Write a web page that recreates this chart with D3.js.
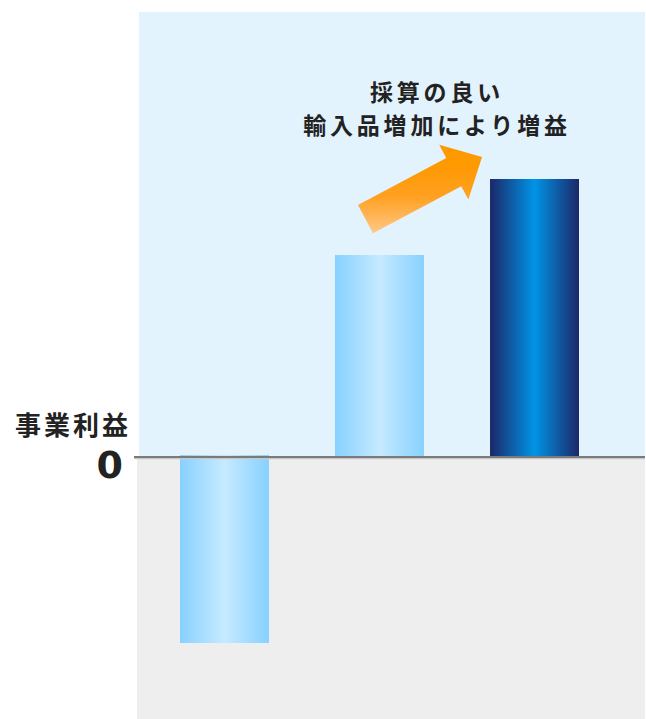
<!DOCTYPE html>
<html>
<head>
<meta charset="utf-8">
<script src="https://cdn.jsdelivr.net/npm/d3@7"></script>
<style>
  body { margin: 0; background: #fff; }
  svg { display: block; }
  text { font-family: "Noto Sans CJK JP", "Noto Sans", sans-serif; font-weight: bold; fill: #222; }
</style>
</head>
<body>
<svg width="646" height="719"></svg>
<script>
const W = 646, H = 719;

// data
const categories = ["前期", "当期見込", "当期"];
const values = [-186, 202, 278];
const yLabel = "事業利益";
const zeroLabel = "0";
const noteLines = ["採算の良い", "輸入品増加により増益"];

const svg = d3.select("svg");
const defs = svg.append("defs");

const x = d3.scaleBand()
  .domain(categories)
  .range([180 - 0.3 * 155, 579 + 0.3 * 155])
  .paddingInner(0.426)
  .paddingOuter(0.3);

const y = d3.scaleLinear()
  .domain([-262, 445])
  .range([H, 12]);

const plotL = 139, plotR = 645;

// background panels
svg.append("rect")
  .attr("x", plotL).attr("y", y(445))
  .attr("width", plotR - plotL).attr("height", y(0) - y(445))
  .attr("fill", "#e2f3fd");
svg.append("rect")
  .attr("x", 137).attr("y", y(0))
  .attr("width", plotR - 137).attr("height", H - y(0))
  .attr("fill", "#eeeeee");

// gradients
function hGrad(id, edge, mid){
  const g = defs.append("linearGradient").attr("id", id)
    .attr("x1", "0%").attr("x2", "100%").attr("y1", "0%").attr("y2", "0%");
  g.append("stop").attr("offset", "0%").attr("stop-color", edge);
  g.append("stop").attr("offset", "50%").attr("stop-color", mid);
  g.append("stop").attr("offset", "100%").attr("stop-color", edge);
}
hGrad("lightBar", "#87d1ff", "#c6eaff");
hGrad("darkBar", "#1c2868", "#0094e6");

const barFill = ["url(#lightBar)", "url(#lightBar)", "url(#darkBar)"];

// bars
svg.append("g")
  .selectAll("rect")
  .data(values)
  .join("rect")
  .attr("x", (d, i) => x(categories[i]))
  .attr("width", x.bandwidth())
  .attr("y", d => d < 0 ? y(0) - 2 : y(d))
  .attr("height", d => Math.abs(y(d) - y(0)) + (d < 0 ? 2 : 0))
  .attr("fill", (d, i) => barFill[i]);

// zero line
svg.append("line")
  .attr("x1", 134).attr("x2", plotR)
  .attr("y1", y(0) + 1.5).attr("y2", y(0) + 1.5)
  .attr("stroke", "#c8c8c8").attr("stroke-width", 1.5);
svg.append("line")
  .attr("x1", 134).attr("x2", plotR)
  .attr("y1", y(0)).attr("y2", y(0))
  .attr("stroke", "#7a7a7a").attr("stroke-width", 2);

// labels
svg.append("text")
  .attr("x", 131).attr("y", 423)
  .attr("text-anchor", "end")
  .attr("dominant-baseline", "central")
  .style("font-size", "26px")
  .style("letter-spacing", "3px")
  .text(yLabel);
svg.append("text")
  .attr("x", 123).attr("y", y(0) + 8)
  .attr("text-anchor", "end")
  .attr("dominant-baseline", "central")
  .style("font-size", "38px")
  .style("font-family", "'DejaVu Sans', sans-serif")
  .text(zeroLabel);

// arrow from bar 2 toward bar 3
const i2 = 1, i3 = 2;
const tail = [x(categories[i2]) + x.bandwidth() / 2 - 14, y(values[i2]) - 36];
const tip = [x(categories[i3]) - 8, y(values[i3]) - 22];
const ang = Math.atan2(tip[1] - tail[1], tip[0] - tail[0]) * 180 / Math.PI;
const len = Math.hypot(tip[0] - tail[0], tip[1] - tail[1]);
const shaftW = 32, headW = 62, headL = 32;

const ag = defs.append("linearGradient").attr("id", "arrowGrad")
  .attr("gradientUnits", "userSpaceOnUse")
  .attr("x1", 0).attr("x2", 0).attr("y1", 165).attr("y2", 235);
ag.append("stop").attr("offset", "0%").attr("stop-color", "#ff9900");
ag.append("stop").attr("offset", "45%").attr("stop-color", "#ffa020");
ag.append("stop").attr("offset", "100%").attr("stop-color", "#ffca8c");

const pts = [
  [0, -shaftW / 2], [len - headL, -shaftW / 2], [len - headL, -headW / 2],
  [len, 0], [len - headL, headW / 2], [len - headL, shaftW / 2], [0, shaftW / 2]
];
const rad = ang * Math.PI / 180;
const world = pts.map(([px, py]) => [
  tail[0] + px * Math.cos(rad) - py * Math.sin(rad),
  tail[1] + px * Math.sin(rad) + py * Math.cos(rad)
]);
svg.append("path")
  .attr("d", d3.line()(world) + "Z")
  .attr("fill", "url(#arrowGrad)");

// note text (two lines)
svg.append("g")
  .selectAll("text")
  .data(noteLines)
  .join("text")
  .attr("x", 437)
  .attr("y", (d, i) => 90.5 + i * 33.6)
  .attr("text-anchor", "middle")
  .attr("dominant-baseline", "central")
  .style("font-size", "23px")
  .style("letter-spacing", "3.8px")
  .text(d => d);
</script>
</body>
</html>
